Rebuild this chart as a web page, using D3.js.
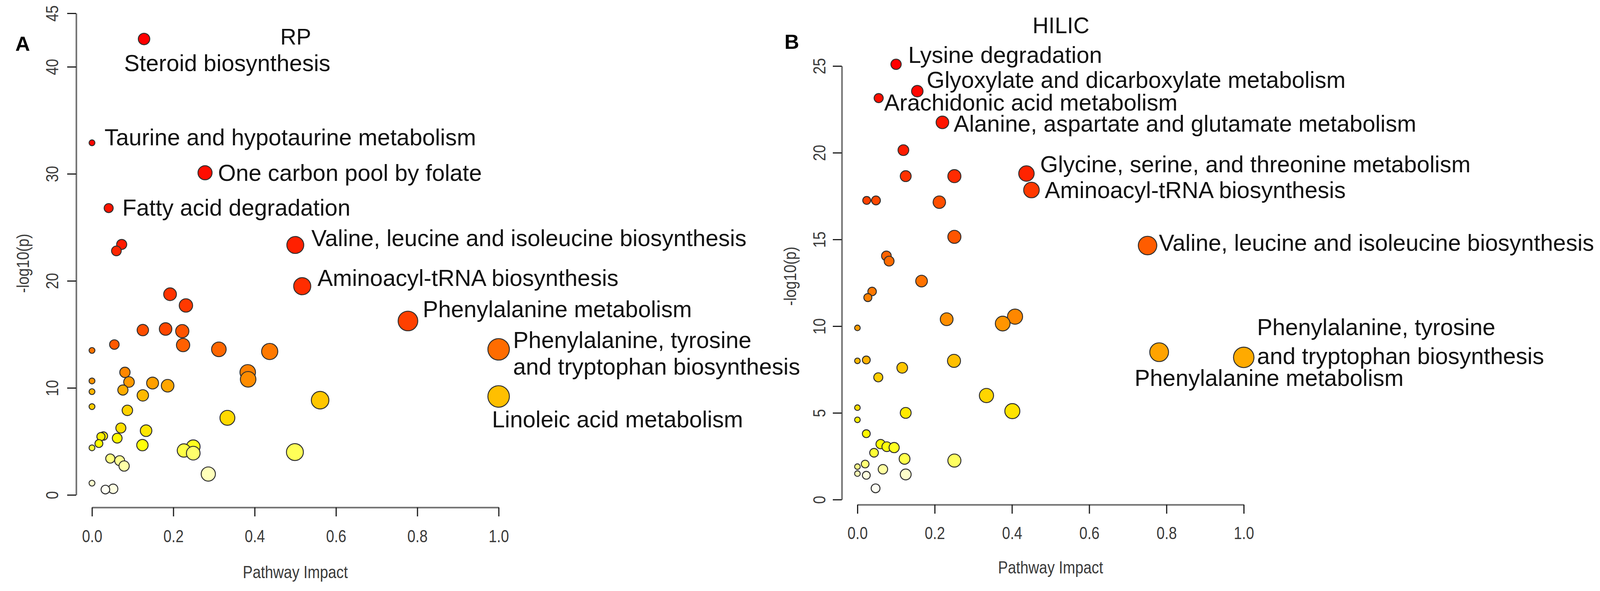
<!DOCTYPE html>
<html>
<head>
<meta charset="utf-8">
<script src="https://cdn.jsdelivr.net/npm/d3@7"></script>
<style>
  body { margin: 0; background: #fff; }
  svg { display: block; font-family: "Liberation Sans", Arial, Helvetica, sans-serif; }
  .axis .domain { stroke: #6f6f6f; stroke-width: 4; }
  .axis .tick line { stroke: #1e1e1e; stroke-width: 3; }
  .axis text, .axis-title { fill: #3a3a3a; font-size: 45px; font-family: "Liberation Sans", Arial, sans-serif; }
  .path-label { fill: #111; font-size: 59px; }
  .panel-title { fill: #111; font-size: 57px; }
  .panel-letter { fill: #000; font-size: 52px; font-weight: bold; }
</style>
</head>
<body>
<script>
// ---- panel A : RP ----
const rpImpact = [0.128, 0, 0.278, 0.041, 0.073, 0.50, 0.060, 0.517, 0.192, 0.231,
  0.777, 0.181, 0.125, 0.222, 0.055, 0.224, 0.312, 1.0, 0, 0.437,
  0.383, 0.081, 0.384, 0, 0.091, 0.149, 0.186, 0.076, 0, 0.125,
  1.0, 0.561, 0, 0.087, 0.333, 0.071, 0.133, 0.022, 0.028, 0.062,
  0.017, 0.124, 0.249, 0, 0.226, 0.499, 0.249, 0.045, 0.068, 0.079,
  0.286, 0, 0.052, 0.033];
const rpLogP = [42.6, 32.9, 30.1, 26.8, 23.4, 23.35, 22.8, 19.5, 18.75, 17.7,
  16.25, 15.5, 15.4, 15.3, 14.05, 14.0, 13.6, 13.6, 13.5, 13.4,
  11.45, 11.45, 10.8, 10.65, 10.55, 10.45, 10.2, 9.8, 9.65, 9.3,
  9.2, 8.85, 8.25, 7.9, 7.2, 6.25, 6.0, 5.45, 5.5, 5.3,
  4.8, 4.65, 4.5, 4.4, 4.15, 4.0, 3.9, 3.4, 3.2, 2.7,
  1.95, 1.1, 0.57, 0.5];
const rpName = ["Steroid biosynthesis", "Taurine and hypotaurine metabolism", "One carbon pool by folate",
  "Fatty acid degradation", "", "Valine, leucine and isoleucine biosynthesis", "", "Aminoacyl-tRNA biosynthesis", "", "",
  "Phenylalanine metabolism", "", "", "", "", "", "", "Phenylalanine, tyrosine\nand tryptophan biosynthesis", "", "",
  "", "", "", "", "", "", "", "", "", "",
  "Linoleic acid metabolism", "", "", "", "", "", "", "", "", "",
  "", "", "", "", "", "", "", "", "", "",
  "", "", "", ""];

// ---- panel B : HILIC ----
const hilicImpact = [0.100, 0.155, 0.055, 0.220, 0.119, 0.4375, 0.251, 0.125, 0.4505, 0.024,
  0.048, 0.212, 0.251, 0.751, 0.075, 0.082, 0.166, 0.038, 0.027, 0.408,
  0.231, 0.376, 0, 0.781, 1.0, 0.023, 0, 0.250, 0.116, 0.054,
  0.334, 0, 0.401, 0.125, 0, 0.023, 0.060, 0.076, 0.095, 0.043,
  0.122, 0.251, 0.020, 0, 0.066, 0, 0.125, 0.023, 0.047];
const hilicLogP = [25.1, 23.55, 23.15, 21.75, 20.15, 18.8, 18.65, 18.65, 17.85, 17.25,
  17.25, 17.15, 15.15, 14.65, 14.05, 13.75, 12.6, 12.0, 11.65, 10.55,
  10.4, 10.15, 9.9, 8.5, 8.2, 8.05, 8.0, 8.0, 7.6, 7.05,
  6.0, 5.3, 5.1, 5.0, 4.6, 3.8, 3.2, 3.05, 3.0, 2.7,
  2.35, 2.25, 2.05, 1.9, 1.75, 1.5, 1.45, 1.4, 0.65];
const hilicName = ["Lysine degradation", "Glyoxylate and dicarboxylate metabolism", "Arachidonic acid metabolism",
  "Alanine, aspartate and glutamate metabolism", "", "Glycine, serine, and threonine metabolism", "", "",
  "Aminoacyl-tRNA biosynthesis", "",
  "", "", "", "Valine, leucine and isoleucine biosynthesis", "", "", "", "", "", "",
  "", "", "", "Phenylalanine metabolism", "Phenylalanine, tyrosine\nand tryptophan biosynthesis", "", "", "", "", "",
  "", "", "", "", "", "", "", "", "", "",
  "", "", "", "", "", "", "", "", ""];

const impactTicks = [0, 0.2, 0.4, 0.6, 0.8, 1.0];
const rpTicks = [0, 10, 20, 30, 40, 45];
const hilicTicks = [0, 5, 10, 15, 20, 25];

// label offsets from the circle centre (text start, baseline)
const rpLabelPos = {
  "Steroid biosynthesis": [-51, 82],
  "Taurine and hypotaurine metabolism": [32, 6],
  "One carbon pool by folate": [33, 21],
  "Fatty acid degradation": [35, 19],
  "Valine, leucine and isoleucine biosynthesis": [41, 3],
  "Aminoacyl-tRNA biosynthesis": [39, -1],
  "Phenylalanine metabolism": [38, -10],
  "Phenylalanine, tyrosine\nand tryptophan biosynthesis": [37, -3],
  "Linoleic acid metabolism": [-17, 79]
};
const hilicLabelPos = {
  "Lysine degradation": [31, -4],
  "Glyoxylate and dicarboxylate metabolism": [24, -8],
  "Arachidonic acid metabolism": [14, 32],
  "Alanine, aspartate and glutamate metabolism": [29, 24],
  "Glycine, serine, and threonine metabolism": [35, -3],
  "Aminoacyl-tRNA biosynthesis": [34, 21],
  "Valine, leucine and isoleucine biosynthesis": [29, 13],
  "Phenylalanine metabolism": [-63, 86],
  "Phenylalanine, tyrosine\nand tryptophan biosynthesis": [34, -57]
};

// R's heat.colors(n)
function heatColors(n) {
  const j = Math.floor(n / 4), i = n - j;
  const cols = [];
  for (let k = 0; k < i; k++) {
    const g = i > 1 ? k / (i - 1) : 0;
    cols.push(d3.rgb(255, Math.round(255 * g), 0).formatHex());
  }
  for (let k = 0; k < j; k++) {
    const s0 = 1 - 1 / (2 * j), s1 = 1 / (2 * j);
    const s = j > 1 ? s0 + (s1 - s0) * k / (j - 1) : s0;
    cols.push(d3.rgb(255, 255, Math.round(255 * (1 - s))).formatHex());
  }
  return cols;
}

const svg = d3.select("body").append("svg")
  .attr("width", 4106)
  .attr("height", 1513);

function drawPanel(p) {
  const g = svg.append("g");
  const x = d3.scaleLinear().domain([0, 1]).range(p.xRange);
  const y = d3.scaleLinear().domain([0, p.yTicks[p.yTicks.length - 1]]).range(p.yRange);
  const w = p.xRange[1] - p.xRange[0];
  const r = d3.scaleSqrt().domain([0, 1]).range([w / 160 + 1, w / 40 + 1.5]);

  const pts = p.impact.map((d, i) => ({ impact: d, logp: p.logp[i], name: p.names[i] }))
    .sort((a, b) => b.logp - a.logp);
  const cols = heatColors(pts.length);
  pts.forEach((d, i) => d.fill = cols[i]);

  // axes
  const xg = g.append("g").attr("class", "axis")
    .attr("transform", `translate(0,${p.xAxisY})`)
    .call(d3.axisBottom(x).tickValues(impactTicks).tickFormat(d3.format(".1f")).tickSize(23).tickSizeOuter(0));
  xg.attr("font-size", null).attr("font-family", null);
  xg.selectAll(".tick text")
    .attr("y", p.xLabelOff)
    .attr("dy", "0.35em")
    .attr("transform", "scale(0.83,1)");

  const yg = g.append("g").attr("class", "axis")
    .attr("transform", `translate(${p.yAxisX},0)`)
    .call(d3.axisLeft(y).tickValues(p.yTicks).tickSize(23).tickSizeOuter(0));
  yg.attr("font-size", null).attr("font-family", null);
  yg.selectAll(".tick text")
    .attr("x", null)
    .attr("dy", "0.35em")
    .attr("text-anchor", "middle")
    .attr("transform", `translate(${-p.yLabelOff},0) rotate(-90) scale(0.83,1)`);

  g.append("text").attr("class", "axis-title")
    .attr("text-anchor", "middle")
    .attr("dy", "0.35em")
    .attr("transform", `translate(${(p.xRange[0] + p.xRange[1]) / 2},${p.xTitleY}) scale(0.84,1)`)
    .text("Pathway Impact");

  g.append("text").attr("class", "axis-title")
    .attr("text-anchor", "middle")
    .attr("dy", "0.35em")
    .attr("transform", `translate(${p.yTitle[0]},${p.yTitle[1]}) rotate(-90) scale(0.84,1)`)
    .text("-log10(p)");

  // circles, drawn from the most significant down
  g.append("g").selectAll("circle")
    .data(pts)
    .join("circle")
    .attr("cx", d => x(d.impact))
    .attr("cy", d => y(d.logp))
    .attr("r", d => r(d.impact))
    .attr("fill", d => d.fill)
    .attr("stroke", "#2e2e2e")
    .attr("stroke-width", 2.4);

  // pathway labels
  pts.filter(d => d.name).forEach(d => {
    const off = p.labelPos[d.name];
    const lx = x(d.impact) + off[0];
    const t = g.append("text").attr("class", "path-label")
      .attr("x", lx)
      .attr("y", y(d.logp) + off[1]);
    d.name.split("\n").forEach((ln, k) => {
      t.append("tspan").attr("x", lx).attr("dy", k ? p.lineGap : 0).text(ln);
    });
  });

  g.append("text").attr("class", "panel-title")
    .attr("x", p.title[1]).attr("y", p.title[2])
    .attr("text-anchor", "middle")
    .text(p.title[0]);

  g.append("text").attr("class", "panel-letter")
    .attr("x", p.letter[1]).attr("y", p.letter[2])
    .attr("text-anchor", "middle")
    .text(p.letter[0]);
}

drawPanel({
  impact: rpImpact, logp: rpLogP, names: rpName, labelPos: rpLabelPos,
  yTicks: rpTicks,
  xRange: [235.5, 1276.5], yRange: [1267, 34],
  xAxisY: 1299, yAxisX: 195, xLabelOff: 73, yLabelOff: 62,
  xTitleY: 1464, yTitle: [58, 674], lineGap: 68,
  title: ["RP", 757, 114], letter: ["A", 58, 130]
});

drawPanel({
  impact: hilicImpact, logp: hilicLogP, names: hilicName, labelPos: hilicLabelPos,
  yTicks: hilicTicks,
  xRange: [2195, 3184], yRange: [1279, 169],
  xAxisY: 1292, yAxisX: 2155, xLabelOff: 72, yLabelOff: 58,
  xTitleY: 1452, yTitle: [2022, 707], lineGap: 74,
  title: ["HILIC", 2716, 85], letter: ["B", 2027, 125]
});
</script>
</body>
</html>
